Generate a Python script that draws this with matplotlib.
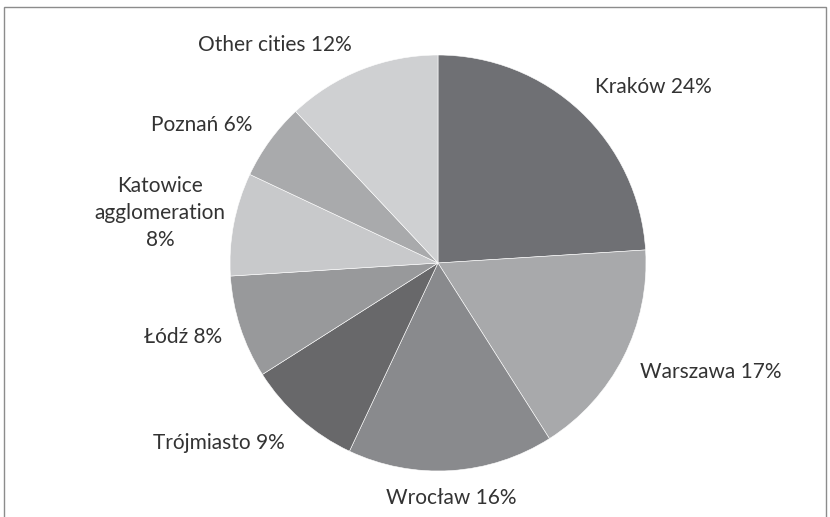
import numpy as np
import matplotlib
matplotlib.use("Agg")
import matplotlib.pyplot as plt
from matplotlib.patches import Rectangle

plt.rcParams['font.family'] = ['Lato', 'DejaVu Sans']

cities = ["Kraków", "Warszawa", "Wrocław", "Trójmiasto", "Łódź",
          "Katowice\nagglomeration", "Poznań", "Other cities"]
shares = [24, 17, 16, 9, 8, 8, 6, 12]
colors = ["#6f7074", "#a8a9ab", "#898a8d", "#68686a",
          "#98999b", "#c8c9cb", "#a9aaac", "#cfd0d2"]
# label centres, in units of the pie radius
label_pos = [(1.034, 0.846), (1.313, -0.524), (0.063, -1.130), (-1.053, -0.865),
             (-1.226, -0.356), (-1.337, 0.240), (-1.135, 0.663), (-0.784, 1.048)]

W, H = 830, 517
cx, cy, r = 438, 263, 208   # pie centre and radius in pixels

fig = plt.figure(figsize=(W / 100, H / 100), dpi=100)
ax = fig.add_axes([0, 0, 1, 1])
ax.pie(shares, colors=colors, startangle=90, counterclock=False, radius=1,
       wedgeprops=dict(edgecolor="white", linewidth=0.4))
ax.set_xlim(-cx / r, (W - cx) / r)
ax.set_ylim(-(H - cy) / r, cy / r)
ax.set_aspect("equal")
ax.axis("off")

for name, s, (lx, ly) in zip(cities, shares, label_pos):
    sep = "\n" if "\n" in name else " "
    ax.text(lx, ly, f"{name}{sep}{s}%", ha="center", va="center",
            fontsize=15, color="#333333", linespacing=1.45)

# chart frame (bottom edge lies outside the picture)
fig.patches.append(Rectangle((4 / W, -0.05), 822 / W, 1.05 - 7 / H,
                             transform=fig.transFigure, fill=False,
                             edgecolor="#8c8c8c", linewidth=1))

fig.savefig("out.png", dpi=100)
